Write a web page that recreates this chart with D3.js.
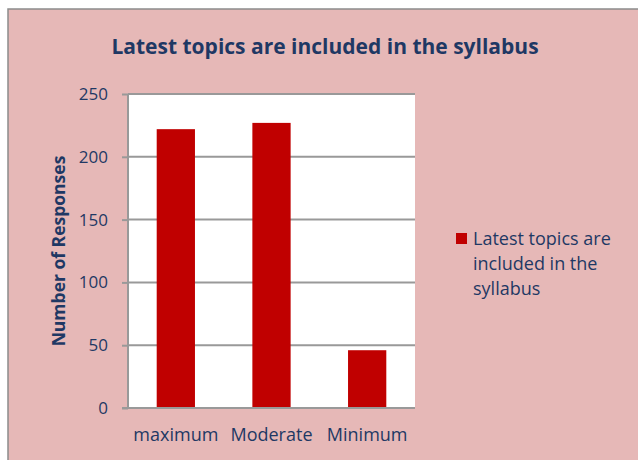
<!DOCTYPE html>
<html><head><meta charset="utf-8">
<script src="https://cdn.jsdelivr.net/npm/d3@7/dist/d3.min.js"></script>
<style>html,body{margin:0;padding:0;background:#fff;}svg{display:block;}</style>
</head><body>
<script>
const categories = ["maximum", "Moderate", "Minimum"];
const values = [222, 227, 46];
const yTicks = [0, 50, 100, 150, 200, 250];
const seriesName = "Latest topics are included in the syllabus";
const legendLines = ["Latest topics are", "included in the", "syllabus"];

const W = 638, H = 460;
const font = "'Open Sans', 'Noto Sans', sans-serif";
const navy = "#1F3864";
const svg = d3.select("body").append("svg").attr("width", W).attr("height", H);

// outer chart area
svg.append("rect").attr("x", 8).attr("y", 9).attr("width", W).attr("height", H)
  .attr("fill", "#E6B8B7").attr("stroke", "#8C8C8C").attr("stroke-width", 1.5);

const plot = {l: 128, t: 94, r: 415, b: 408};
const x = d3.scaleBand().domain(categories).range([plot.l, plot.r]).paddingInner(0.6).paddingOuter(0.3);
const y = d3.scaleLinear().domain([0, 250]).range([plot.b, plot.t]);

svg.append("rect").attr("x", plot.l).attr("y", plot.t)
  .attr("width", plot.r - plot.l).attr("height", plot.b - plot.t).attr("fill", "#fff");

// gridlines
svg.append("g").selectAll("line").data(yTicks.filter(d => d > 0)).join("line")
  .attr("x1", plot.l).attr("x2", plot.r)
  .attr("y1", d => y(d)).attr("y2", d => y(d))
  .attr("stroke", "#999").attr("stroke-width", 2);

// bars
svg.append("g").selectAll("rect").data(values).join("rect")
  .attr("x", (d, i) => x(categories[i]))
  .attr("width", x.bandwidth())
  .attr("y", d => y(d))
  .attr("height", d => y(0) - y(d))
  .attr("fill", "#C00000");

// y axis
const yAxis = d3.axisLeft(y).tickValues(yTicks).tickSize(6).tickPadding(14);
const ga = svg.append("g").attr("transform", `translate(${plot.l},0)`).call(yAxis);
ga.select(".domain").attr("stroke", "#999").attr("stroke-width", 2).attr("d", `M0,${plot.t}V${plot.b}`);
ga.selectAll(".tick line").attr("stroke", "#999").attr("stroke-width", 2);
ga.selectAll(".tick text").attr("fill", navy).style("font-family", font).style("font-size", "17px");

// x axis baseline
const xAxis = d3.axisBottom(x).tickSize(0).tickPadding(20);
const gx = svg.append("g").attr("transform", `translate(0,${plot.b})`).call(xAxis);
gx.select(".domain").attr("stroke", "#999").attr("stroke-width", 2).attr("d", `M${plot.l - 6},0H${plot.r}`);
gx.selectAll(".tick text").attr("fill", navy).style("font-family", font).style("font-size", "18px");

// title
svg.append("text").attr("x", 325).attr("y", 54).attr("text-anchor", "middle")
  .attr("fill", navy).style("font-family", font).style("font-weight", "bold").style("font-size", "21px")
  .text(seriesName);

// y label
svg.append("text").attr("transform", "translate(65,251) rotate(-90)").attr("text-anchor", "middle")
  .attr("fill", navy).style("font-family", font).style("font-weight", "bold").style("font-size", "17.5px")
  .text("Number of Responses");

// legend
svg.append("rect").attr("x", 456).attr("y", 233).attr("width", 11).attr("height", 11).attr("fill", "#C00000");
svg.append("g").selectAll("text").data(legendLines).join("text")
  .attr("x", 473).attr("y", (d, i) => 245 + i * 25)
  .attr("fill", navy).style("font-family", font).style("font-size", "18px")
  .text(d => d);
</script>
</body></html>
